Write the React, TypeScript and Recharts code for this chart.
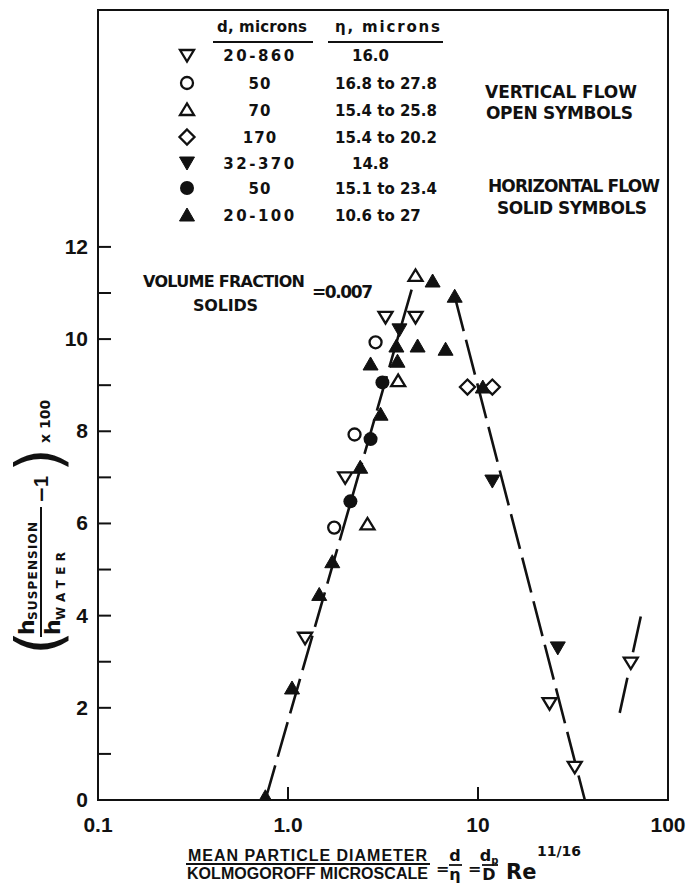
import React from 'react';
import { ScatterChart, Scatter, XAxis, YAxis, ReferenceLine, ReferenceArea } from 'recharts';

// ---------------- data ----------------
const openTriDown = [
  { x: 1.23, y: 3.52 }, { x: 2.0, y: 7.0 }, { x: 3.26, y: 10.48 }, { x: 4.69, y: 10.48 },
  { x: 23.8, y: 2.1 }, { x: 32.3, y: 0.72 }, { x: 63.7, y: 2.98 },
];
const openCircle = [{ x: 1.75, y: 5.91 }, { x: 2.24, y: 7.93 }, { x: 2.89, y: 9.93 }];
const openTriUp = [{ x: 2.62, y: 5.98 }, { x: 3.8, y: 9.09 }, { x: 4.69, y: 11.37 }];
const openDiamond = [{ x: 8.8, y: 8.96 }, { x: 11.9, y: 8.96 }];
const solidTriDown = [{ x: 3.86, y: 10.2 }, { x: 11.9, y: 6.92 }, { x: 26.3, y: 3.3 }];
const solidCircle = [{ x: 2.13, y: 6.48 }, { x: 2.72, y: 7.83 }, { x: 3.14, y: 9.06 }];
const solidTriUp = [
  { x: 0.76, y: 0.07 }, { x: 1.05, y: 2.43 }, { x: 1.46, y: 4.46 }, { x: 1.71, y: 5.17 },
  { x: 2.4, y: 7.22 }, { x: 3.07, y: 8.37 }, { x: 2.72, y: 9.46 }, { x: 3.77, y: 9.52 },
  { x: 3.72, y: 9.85 }, { x: 4.81, y: 9.85 }, { x: 6.75, y: 9.78 }, { x: 5.77, y: 11.26 },
  { x: 7.54, y: 10.93 }, { x: 10.6, y: 8.96 },
];

const risingLine = [{ x: 0.76, y: 0 }, { x: 4.69, y: 11.37 }];
const fallingLine = [{ x: 7.54, y: 10.93 }, { x: 36.5, y: 0 }];
const shortLine = [{ x: 55.7, y: 1.89 }, { x: 71.9, y: 3.98 }];

const xTicks = [0.1, 1, 10, 100];
const xTickLabels = ['0.1', '1.0', '10', '100'];
const yTicks = [0, 1, 2, 3, 4, 5, 6, 7, 8, 9, 10, 11, 12];
const yLabelled = [0, 2, 4, 6, 8, 10, 12];
const xDomain = [0.1, 100];
const yDomain = [0, 17.14];

const legendKinds = ['openTriDown', 'openCircle', 'openTriUp', 'openDiamond', 'solidTriDown', 'solidCircle', 'solidTriUp'];
const legendD = ['20-860', '50', '70', '170', '32-370', '50', '20-100'];
const legendEta = ['16.0', '16.8 to 27.8', '15.4 to 25.8', '15.4 to 20.2', '14.8', '15.1 to 23.4', '10.6 to 27'];

// ---------------- styling ----------------
const FONT = '"DejaVu Sans", "Liberation Sans", sans-serif';
const ARIAL = '"Liberation Sans", Arial, sans-serif';
const INK = '#111';

function Marker({ kind, cx, cy }: { kind: string; cx: number; cy: number }) {
  const sw = 2.3;
  const h = 7;
  switch (kind) {
    case 'openTriDown':
      return <polygon points={`${cx - h},${cy - 5} ${cx + h},${cy - 5} ${cx},${cy + 6.5}`} fill="#fff" stroke={INK} strokeWidth={sw} />;
    case 'openTriUp':
      return <polygon points={`${cx - h},${cy + 5} ${cx + h},${cy + 5} ${cx},${cy - 6.5}`} fill="#fff" stroke={INK} strokeWidth={sw} />;
    case 'openCircle':
      return <circle cx={cx} cy={cy} r={6} fill="#fff" stroke={INK} strokeWidth={sw} />;
    case 'openDiamond':
      return <polygon points={`${cx},${cy - 7.5} ${cx + 7.5},${cy} ${cx},${cy + 7.5} ${cx - 7.5},${cy}`} fill="#fff" stroke={INK} strokeWidth={sw} />;
    case 'solidTriDown':
      return <polygon points={`${cx - 7.5},${cy - 6} ${cx + 7.5},${cy - 6} ${cx},${cy + 7}`} fill={INK} stroke={INK} strokeWidth={1} />;
    case 'solidTriUp':
      return <polygon points={`${cx - 7.5},${cy + 6} ${cx + 7.5},${cy + 6} ${cx},${cy - 7}`} fill={INK} stroke={INK} strokeWidth={1} />;
    case 'solidCircle':
      return <circle cx={cx} cy={cy} r={7} fill={INK} />;
    default:
      return <g />;
  }
}

const shapeOf = (kind: string) => (props: any) => {
  const { cx, cy } = props;
  if (cx == null || cy == null) return <g />;
  return <Marker kind={kind} cx={cx} cy={cy} />;
};

const XTick = (props: any) => {
  const { x, y, payload } = props;
  const v = payload.value;
  const idx = xTicks.indexOf(v);
  const inner = v > xDomain[0] && v < xDomain[1];
  return (
    <g>
      {inner && <line x1={x} x2={x} y1={y} y2={y - 13} stroke={INK} strokeWidth={2} />}
      <text x={x} y={y + 32} textAnchor="middle" fontFamily={ARIAL} fontWeight="bold" fontSize={21} fill={INK}>
        {idx >= 0 ? xTickLabels[idx] : ''}
      </text>
    </g>
  );
};

const YTick = (props: any) => {
  const { x, y, payload } = props;
  const v = payload.value;
  return (
    <g>
      {v > 0 && <line x1={x} x2={x + 13} y1={y} y2={y} stroke={INK} strokeWidth={2} />}
      {yLabelled.includes(v) && (
        <text x={x - 10} y={y + 7} textAnchor="end" fontFamily={ARIAL} fontWeight="bold" fontSize={21} fill={INK}>
          {String(v)}
        </text>
      )}
    </g>
  );
};

function Overlay() {
  const rowY = [61, 89, 116, 143, 169, 194, 221];
  const txt = { fontFamily: FONT, fontWeight: 'bold' as const, fill: INK };
  return (
    <svg width={691} height={889} style={{ position: 'absolute', left: 0, top: 0, pointerEvents: 'none' }}>
      {/* legend table header */}
      <text x={217} y={32} fontSize={15} {...txt} textLength={90}>d, microns</text>
      <line x1={213} x2={313} y1={42} y2={42} stroke={INK} strokeWidth={2} />
      <text x={335} y={32} fontSize={15} {...txt} textLength={105}>η, microns</text>
      <line x1={328} x2={443} y1={42} y2={42} stroke={INK} strokeWidth={2} />
      {legendKinds.map((k, i) => (
        <g key={k}>
          <Marker kind={k} cx={187} cy={rowY[i] - 6} />
          <text x={260} y={rowY[i]} fontSize={15} textAnchor="middle" letterSpacing={legendD[i].includes('-') ? 2.5 : 1} {...txt}>{legendD[i]}</text>
          <text x={legendEta[i].includes('to') ? 335 : 352} y={rowY[i]} fontSize={15} {...txt}>{legendEta[i]}</text>
        </g>
      ))}
      {/* group notes */}
      <text x={485} y={98} fontSize={17} {...txt} textLength={152}>VERTICAL FLOW</text>
      <text x={486} y={119} fontSize={17} {...txt} textLength={147}>OPEN SYMBOLS</text>
      <text x={488} y={192} fontSize={17} {...txt} textLength={172}>HORIZONTAL FLOW</text>
      <text x={497} y={214} fontSize={17} {...txt} textLength={150}>SOLID SYMBOLS</text>
      {/* volume fraction */}
      <text x={143} y={287} fontSize={16} {...txt} textLength={162}>VOLUME FRACTION</text>
      <text x={193} y={311} fontSize={16} {...txt} textLength={65}>SOLIDS</text>
      <text x={312} y={298} fontSize={17} {...txt} textLength={61}>=0.007</text>
      {/* y axis label */}
      <g transform="translate(0,655) rotate(-90)" fill={INK}>
        <text x={0} y={60} fontSize={62} fontFamily={FONT}>(</text>
        <text x={20} y={34} fontSize={22} {...txt}>h</text>
        <text x={35} y={37} fontSize={12} {...txt} textLength={98}>SUSPENSION</text>
        <line x1={18} x2={148} y1={41} y2={41} stroke={INK} strokeWidth={2} />
        <text x={20} y={60} fontSize={22} {...txt}>h</text>
        <text x={35} y={65} fontSize={12} {...txt} textLength={68}>WATER</text>
        <text x={152} y={48} fontSize={20} {...txt}>−</text>
        <text x={168} y={48} fontSize={20} fontFamily={ARIAL} fontWeight="bold">1</text>
        <text x={183} y={60} fontSize={62} fontFamily={FONT}>)</text>
        <text x={212} y={50} fontSize={14} {...txt}>x 100</text>
      </g>
      {/* x axis label */}
      <text x={188} y={861} fontSize={16} fontFamily={ARIAL} fontWeight="bold" fill={INK} textLength={239}>MEAN PARTICLE DIAMETER</text>
      <line x1={186} x2={430} y1={864} y2={864} stroke={INK} strokeWidth={2} />
      <text x={187} y={879} fontSize={16} fontFamily={ARIAL} fontWeight="bold" fill={INK} textLength={241}>KOLMOGOROFF MICROSCALE</text>
      <text x={436} y={874} fontSize={16} {...txt}>=</text>
      <text x={455} y={861} fontSize={16} textAnchor="middle" {...txt}>d</text>
      <line x1={449} x2={462} y1={865} y2={865} stroke={INK} strokeWidth={1.8} />
      <text x={455} y={880} fontSize={16} textAnchor="middle" {...txt}>η</text>
      <text x={468} y={874} fontSize={16} {...txt}>=</text>
      <text x={489} y={861} fontSize={16} textAnchor="middle" {...txt}>d<tspan fontSize={10} dy={3}>p</tspan></text>
      <line x1={482} x2={498} y1={865} y2={865} stroke={INK} strokeWidth={1.8} />
      <text x={489} y={880} fontSize={16} textAnchor="middle" {...txt}>D</text>
      <text x={506} y={879} fontSize={21} {...txt}>Re</text>
      <text x={537} y={856} fontSize={14} {...txt}>11/16</text>
    </svg>
  );
}

export default function App() {
  const dash = '36 9';
  return (
    <div style={{ position: 'absolute', left: 0, top: 0, width: 691, height: 889, background: '#fff' }}>
      <ScatterChart width={691} height={889} margin={{ top: 10, right: 23, bottom: 0, left: 0 }}>
        <XAxis
          type="number"
          dataKey="x"
          scale="log"
          domain={xDomain}
          ticks={xTicks}
          interval={0}
          allowDataOverflow
          height={89}
          tickSize={0}
          tickMargin={0}
          tick={XTick}
          axisLine={{ stroke: INK, strokeWidth: 2 }}
        />
        <YAxis
          type="number"
          dataKey="y"
          domain={yDomain}
          ticks={yTicks}
          interval={0}
          allowDataOverflow
          width={98}
          tickSize={0}
          tickMargin={0}
          tick={YTick}
          axisLine={{ stroke: INK, strokeWidth: 2 }}
        />
        <ReferenceArea x1={xDomain[0]} x2={xDomain[1]} y1={yDomain[0]} y2={yDomain[1]} fill="none" fillOpacity={0} stroke={INK} strokeWidth={2} ifOverflow="visible" />
        <ReferenceLine segment={risingLine} stroke={INK} strokeWidth={2.6} strokeDasharray={dash} ifOverflow="visible" />
        <ReferenceLine segment={fallingLine} stroke={INK} strokeWidth={2.6} strokeDasharray={dash} ifOverflow="visible" />
        <ReferenceLine segment={shortLine} stroke={INK} strokeWidth={2.6} strokeDasharray="36 26 40" ifOverflow="visible" />
        <Scatter data={openTriDown} shape={shapeOf('openTriDown')} isAnimationActive={false} />
        <Scatter data={openCircle} shape={shapeOf('openCircle')} isAnimationActive={false} />
        <Scatter data={openTriUp} shape={shapeOf('openTriUp')} isAnimationActive={false} />
        <Scatter data={openDiamond} shape={shapeOf('openDiamond')} isAnimationActive={false} />
        <Scatter data={solidTriDown} shape={shapeOf('solidTriDown')} isAnimationActive={false} />
        <Scatter data={solidCircle} shape={shapeOf('solidCircle')} isAnimationActive={false} />
        <Scatter data={solidTriUp} shape={shapeOf('solidTriUp')} isAnimationActive={false} />
      </ScatterChart>
      <Overlay />
    </div>
  );
}
